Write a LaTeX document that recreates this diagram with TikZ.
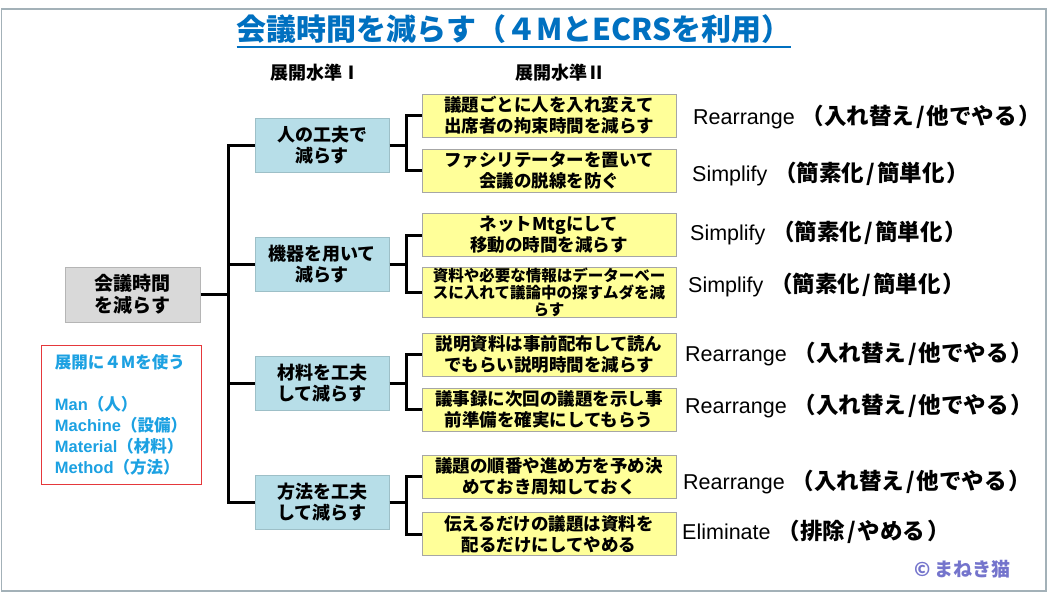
\documentclass[tikz,border=0pt]{standalone}
\usepackage{fontspec}
\setmainfont{Noto Sans CJK JP}
\newfontfamily\lat{Liberation Sans}
\definecolor{titleblue}{HTML}{0070C0}
\definecolor{lblue}{HTML}{B7DEE8}
\definecolor{lblueb}{HTML}{9DBFC7}
\definecolor{yel}{HTML}{FFFF99}
\definecolor{yelb}{HTML}{A6A6A6}
\definecolor{rootg}{HTML}{D9D9D9}
\definecolor{rootb}{HTML}{B5B5B5}
\definecolor{frameg}{HTML}{A3B1B8}
\definecolor{mblue}{HTML}{1CA1E2}
\definecolor{redb}{HTML}{E5383B}
\definecolor{copyc}{HTML}{7474CC}
\tikzset{
  rootbox/.style={draw=rootb, fill=rootg, line width=1pt, minimum width=135, minimum height=55, align=center, font=\fontsize{19}{22}\selectfont\bfseries, inner sep=0},
  lonebox/.style={draw=lblueb, fill=lblue, line width=1pt, minimum width=134, minimum height=54, align=center, font=\fontsize{18}{21}\selectfont\bfseries, inner sep=0},
  ltwobox/.style={draw=yelb, fill=yel, line width=0.8pt, minimum width=254, minimum height=43, align=center, font=\fontsize{17.5}{21}\selectfont\bfseries, inner sep=0},
  conn/.style={line width=3pt},
  ecrs/.style={anchor=west, inner sep=0, font=\fontsize{21.5}{24}\selectfont},
  hdr/.style={inner sep=0, font=\fontsize{18}{20}\selectfont\bfseries},
}
\newcommand{\ecrslabel}[3]{{\lat #1}\hspace{7pt}{\fontsize{22.5}{24}\selectfont\bfseries （#2\hspace{2pt}/\hspace{2pt}#3\hspace{2pt}）}}
\begin{document}
\begin{tikzpicture}[x=1pt,y=-1pt]
\useasboundingbox (0,0) rectangle (1056,594);
\fill[white] (0,0) rectangle (1056,594);
\draw[frameg, line width=1.5pt] (1.5,9) rectangle (1046,591);

% title
\node[inner sep=0, text=titleblue, font=\fontsize{30}{32}\selectfont\bfseries] (title) at (514,29) {会議時間を減らす（４MとECRSを利用）};
\draw[titleblue, line width=1.8pt] ([yshift=-7pt]title.base west) -- ([yshift=-7pt]title.base east);

% headers
\node[hdr] (h1) at (315,73) {展開水準Ⅰ};
\node[hdr] (h2) at (560,73) {展開水準Ⅱ};

% root
\node[rootbox] (root) at (132.5,294.5) {会議時間\\を減らす};

% level 1
\node[lonebox] (la) at (322,145) {人の工夫で\\減らす};
\node[lonebox] (lb) at (322,264) {機器を用いて\\減らす};
\node[lonebox] (lc) at (322,383) {材料を工夫\\して減らす};
\node[lonebox] (ld) at (322,502) {方法を工夫\\して減らす};

% level 2
\node[ltwobox] (b1) at (549,115.5) {議題ごとに人を入れ変えて\\出席者の拘束時間を減らす};
\node[ltwobox] (b2) at (549,170.5) {ファシリテーターを置いて\\会議の脱線を防ぐ};
\node[ltwobox] (b3) at (549,235) {ネットMtgにして\\移動の時間を減らす};
\node[ltwobox, minimum height=50, font=\fontsize{15.5}{17}\selectfont\bfseries] (b4) at (549,292) {資料や必要な情報はデーターベー\\スに入れて議論中の探すムダを減\\らす};
\node[ltwobox] (b5) at (549,354.5) {説明資料は事前配布して読ん\\でもらい説明時間を減らす};
\node[ltwobox] (b6) at (549,409.5) {議事録に次回の議題を示し事\\前準備を確実にしてもらう};
\node[ltwobox] (b7) at (549,476.5) {議題の順番や進め方を予め決\\めておき周知しておく};
\node[ltwobox] (b8) at (549,534) {伝えるだけの議題は資料を\\配るだけにしてやめる};

% ECRS labels
\node[ecrs] (e1) at (693,117) {\ecrslabel{Rearrange}{入れ替え}{他でやる}};
\node[ecrs] (e2) at (692,174) {\ecrslabel{Simplify}{簡素化}{簡単化}};
\node[ecrs] (e3) at (690,233) {\ecrslabel{Simplify}{簡素化}{簡単化}};
\node[ecrs] (e4) at (688,285) {\ecrslabel{Simplify}{簡素化}{簡単化}};
\node[ecrs] (e5) at (685,354) {\ecrslabel{Rearrange}{入れ替え}{他でやる}};
\node[ecrs] (e6) at (685,406) {\ecrslabel{Rearrange}{入れ替え}{他でやる}};
\node[ecrs] (e7) at (683,482) {\ecrslabel{Rearrange}{入れ替え}{他でやる}};
\node[ecrs] (e8) at (682,532) {\ecrslabel{Eliminate}{排除}{やめる}};

% connectors
\coordinate (trunk) at (228,0);
\coordinate (br) at (406,0);
\draw[conn] (root.east) -- (trunk |- root.east);
\draw[conn] (la.west) -- (trunk |- la.west) -- (trunk |- ld.west) -- (ld.west);
\draw[conn] (lb.west) -- (trunk |- lb.west);
\draw[conn] (lc.west) -- (trunk |- lc.west);
\foreach \p/\u/\v in {la/b1/b2, lb/b3/b4, lc/b5/b6, ld/b7/b8}{
  \draw[conn] (\p.east) -- (br |- \p.east);
  \draw[conn] (\u.west) -- (br |- \u.west) -- (br |- \v.west) -- (\v.west);
}

% 4M box
\node[draw=redb, line width=1pt, minimum width=160, minimum height=139, inner sep=0, align=left, text=mblue, font=\fontsize{16.5}{21}\selectfont\bfseries] (fourm) at (121,414.5)
 {展開に４Mを使う\\[21pt]{\lat Man}（人）\\{\lat Machine}（設備）\\{\lat Material}（材料）\\{\lat Method}（方法）};

% copyright
\node[anchor=east, inner sep=0, text=copyc, font=\fontsize{19}{22}\selectfont\bfseries] (copy) at (1011,569) {© まねき猫};
\end{tikzpicture}
\end{document}
